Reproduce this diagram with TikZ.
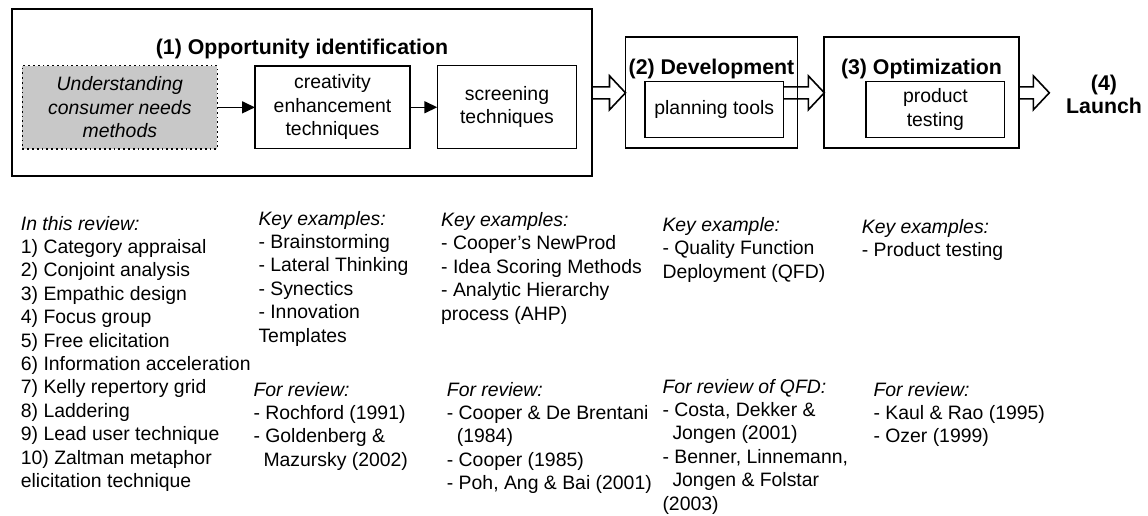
\documentclass[tikz,border=0pt]{standalone}
\usepackage{fontspec}
\setmainfont{Liberation Sans}
\usetikzlibrary{arrows.meta,calc}
\definecolor{boxgray}{RGB}{200,200,200}
\newcommand{\bodyfont}{\fontsize{19.4pt}{23.4pt}\selectfont}
\newcommand{\headfont}{\fontsize{21.3pt}{23.4pt}\selectfont\bfseries}
% hollow block arrow from #1 to the tip #2, kept horizontal at the height of #1
\newcommand{\blockarrow}[2]{%
  \draw[barrow] let \p1=(#1), \p2=(#2) in
    (\x1,\y1+6pt) -- (\x2-16pt,\y1+6pt) -- (\x2-16pt,\y1+17pt) -- (\x2,\y1)
    -- (\x2-16pt,\y1-17pt) -- (\x2-16pt,\y1-6pt) -- (\x1,\y1-6pt);}
\begin{document}
\begin{tikzpicture}[x=1pt,y=-1pt,
  stage/.style={draw, line width=1.8pt, outer sep=0pt, inner sep=0pt, anchor=north west},
  method/.style={draw, line width=1.5pt, outer sep=0pt, inner sep=0pt, anchor=north west,
    align=center, font=\bodyfont},
  needsbox/.style={method, fill=boxgray, dash pattern=on 1.8pt off 3pt},
  title/.style={font=\headfont, anchor=base, inner sep=0pt},
  % notes are placed by the baseline of their last line
  notes/.style={font=\bodyfont, anchor=base west, align=left, inner sep=0pt},
  thinarrow/.style={line width=1.5pt, -{Triangle[length=13pt,width=12pt]}},
  barrow/.style={line width=1.6pt, line join=miter}
]
\useasboundingbox (0,0) rectangle (1148,515);

% stage frames
\node[stage, minimum width=580.6pt, minimum height=167pt] (opp) at (11.7,9.3) {};
\node[stage, minimum width=172pt, minimum height=111pt] (dev) at (625.5,37.3) {};
\node[stage, minimum width=194.7pt, minimum height=111pt] (optz) at (824.3,37.3) {};

% stage titles
\node[title] (t1) at (302,54) {(1) Opportunity identification};
\node[title] (t2) at (711.5,74.5) {(2) Development};
\node[title] (t3) at (921.5,74.5) {(3) Optimization};
\node[font=\headfont, align=center, inner sep=0pt] (launch) at (1104,94.5) {(4)\\Launch};

% method boxes
\node[needsbox, minimum width=195pt, minimum height=83.3pt] (needs) at (22.3,65.7)
  {\itshape Understanding\\\itshape consumer needs\\\itshape methods};
\node[method, minimum width=155pt, minimum height=82.5pt] (creat) at (255,66)
  {creativity\\enhancement\\techniques};
\node[method, minimum width=139.4pt, minimum height=83pt] (screen) at (437.3,65.5)
  {screening\\techniques};
\node[method, minimum width=138.5pt, minimum height=55.6pt] (plan) at (645,81.7)
  {planning tools};
\node[method, minimum width=138.7pt, minimum height=55.6pt] (ptest) at (866,81.7)
  {product\\testing};

% connectors
\draw[thinarrow] (needs.east) -- (needs.east -| creat.west);
\draw[thinarrow] (creat.east) -- (creat.east -| screen.west);
\coordinate (launchtip) at (1049.3,92.8);
\blockarrow{opp.east}{dev.west}
\blockarrow{plan.east |- optz.west}{optz.west}
\blockarrow{optz.east}{launchtip}

% notes under the stages
\node[notes] (review) at (20.7,487.4) {\textit{In this review:}\\
  1) Category appraisal\\ 2) Conjoint analysis\\ 3) Empathic design\\
  4) Focus group\\ 5) Free elicitation\\ 6) Information acceleration\\
  7) Kelly repertory grid\\ 8) Laddering\\ 9) Lead user technique\\
  10) Zaltman metaphor\\ elicitation technique};

\node[notes] (keycreat) at (258.3,342) {\textit{Key examples:}\\
  - Brainstorming\\ - Lateral Thinking\\ - Synectics\\ - Innovation\\ Templates};
\node[notes] (refcreat) at (253.3,466.2) {\textit{For review:}\\
  - Rochford (1991)\\ - Goldenberg \&\\ \hspace*{10pt}Mazursky (2002)};

\node[notes] (keyscreen) at (441,320.1) {\textit{Key examples:}\\
  - Cooper's NewProd\\ - Idea Scoring Methods\\ - Analytic Hierarchy\\ process (AHP)};
\node[notes] (refscreen) at (446.7,489.6) {\textit{For review:}\\
  - Cooper \& De Brentani\\ \hspace*{10pt}(1984)\\ - Cooper (1985)\\ - Poh, Ang \& Bai (2001)};

\node[notes] (keydev) at (662.3,278.3) {\textit{Key example:}\\
  - Quality Function\\ Deployment (QFD)};
\node[notes] (refdev) at (662.3,510) {\textit{For review of QFD:}\\
  - Costa, Dekker \&\\ \hspace*{10pt}Jongen (2001)\\ - Benner, Linnemann,\\
  \hspace*{10pt}Jongen \& Folstar\\ (2003)};

\node[notes] (keyopt) at (861.7,256.4) {\textit{Key examples:}\\ - Product testing};
\node[notes] (refopt) at (873.3,442.8) {\textit{For review:}\\
  - Kaul \& Rao (1995)\\ - Ozer (1999)};
\end{tikzpicture}
\end{document}
